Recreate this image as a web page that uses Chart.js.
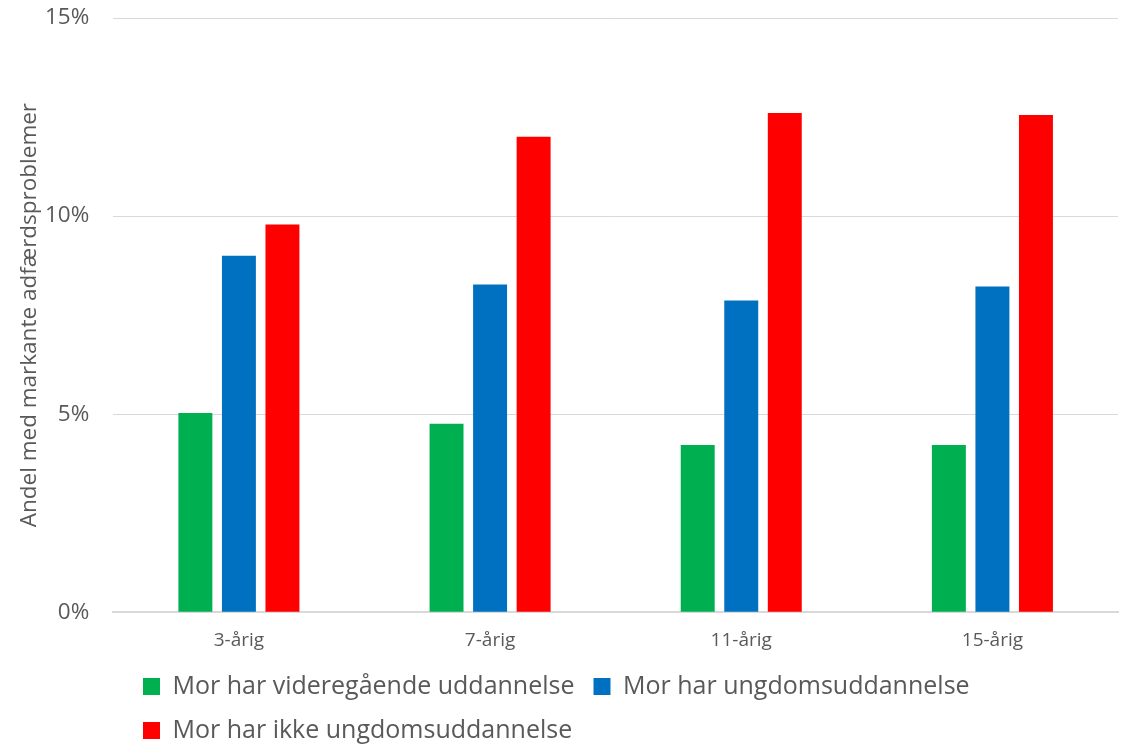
<!DOCTYPE html>
<html>
<head>
<meta charset="utf-8">
<script src="https://cdn.jsdelivr.net/npm/chart.js@4"></script>
<style>
  html, body { margin: 0; padding: 0; background: #fff; }
  #frame { width: 1128px; height: 744px; overflow: hidden; position: relative; }
  #wrap { width: 1128px; height: 767px; position: absolute; top: 0; left: 0; }
</style>
</head>
<body>
<div id="frame"><div id="wrap"><canvas id="chart"></canvas></div></div>
<script>
const categories = ['3-årig', '7-årig', '11-årig', '15-årig'];
const videregaaende = [5.03, 4.76, 4.22, 4.22];
const ungdomsudd = [9.0, 8.27, 7.87, 8.22];
const ikkeUngdomsudd = [9.79, 12.0, 12.6, 12.55];
const yTicks = [0, 5, 10, 15];

const grey = '#595959';
const font = "'Open Sans', 'Liberation Sans', sans-serif";

// move the legend: rows start left-aligned under the plot, a bit closer to the axis
const legendShift = {
  id: 'legendShift',
  afterLayout(chart) {
    const lg = chart.legend;
    if (!lg) return;
    const dx = 120, dy = -14;
    lg.left += dx;
    lg.right += dx;
    lg.top += dy;
    lg.bottom += dy;
    lg.legendHitBoxes.forEach(b => { b.left += dx; b.top += dy; });
  }
};

new Chart(document.getElementById('chart'), {
  type: 'bar',
  data: {
    labels: categories,
    datasets: [
      { label: 'Mor har videregående uddannelse', data: videregaaende, backgroundColor: '#00b050' },
      { label: 'Mor har ungdomsuddannelse', data: ungdomsudd, backgroundColor: '#0070c0' },
      { label: 'Mor har ikke ungdomsuddannelse', data: ikkeUngdomsudd, backgroundColor: '#ff0000' }
    ]
  },
  options: {
    responsive: true,
    maintainAspectRatio: false,
    animation: false,
    categoryPercentage: 0.52,
    barPercentage: 0.78,
    layout: { padding: { top: 0, right: 10, left: 4, bottom: 0 } },
    scales: {
      x: {
        grid: { display: false, drawTicks: false },
        border: { color: '#d9d9d9', width: 2 },
        ticks: { color: grey, font: { family: font, size: 19 }, padding: 17 }
      },
      y: {
        min: 0,
        max: 15,
        afterBuildTicks(axis) { axis.ticks = yTicks.map(v => ({ value: v })); },
        // tick padding is counted twice by default; keep only one gap
        afterFit(s) { s.paddingTop = 18; s.width -= 24; },
        grid: { color: '#d9d9d9', lineWidth: 1, drawTicks: false },
        border: { display: false },
        ticks: {
          color: grey,
          font: { family: font, size: 22.5 },
          padding: 24,
          callback: v => v + '%'
        },
        title: {
          display: true,
          text: 'Andel med markante adfærdsproblemer',
          color: grey,
          font: { family: font, size: 22.5 },
          padding: { top: 12, bottom: 2 }
        }
      }
    },
    plugins: {
      tooltip: { enabled: false },
      legend: {
        position: 'bottom',
        align: 'start',
        labels: {
          color: grey,
          font: { family: font, size: 25 },
          boxWidth: 17,
          boxHeight: 17,
          padding: 19
        }
      }
    }
  },
  plugins: [legendShift]
});
</script>
</body>
</html>
